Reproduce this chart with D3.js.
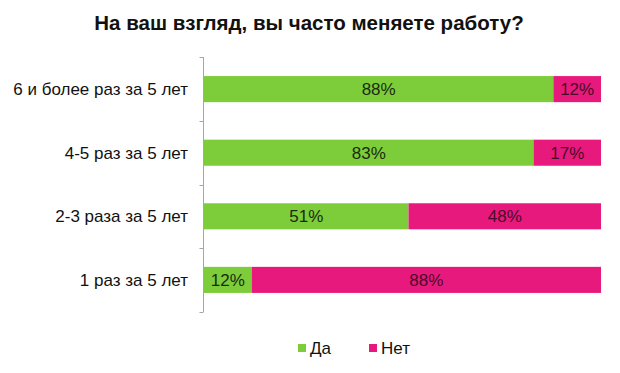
<!DOCTYPE html>
<html>
<head>
<meta charset="utf-8">
<script src="https://cdn.jsdelivr.net/npm/d3@7"></script>
<style>
  body { margin: 0; background: #fff; }
  text { font-family: "Liberation Sans", Arial, sans-serif; }
</style>
</head>
<body>
<svg id="chart"></svg>
<script>
// data
var categories = ["6 и более раз за 5 лет", "4-5 раз за 5 лет", "2-3 раза за 5 лет", "1 раз за 5 лет"];
var yes = [88, 83, 51, 12];
var no = [12, 17, 48, 88];
var seriesNames = ["Да", "Нет"];
var colors = ["#7dcd3a", "#e8197c"];
var labelColors = ["#1b2a10", "#4a0a28"];

var width = 620, height = 373;
var margin = {top: 57, left: 204, right: 19, bottom: 61};

var svg = d3.select("#chart").attr("width", width).attr("height", height);

svg.append("text")
    .attr("x", 309).attr("y", 30)
    .attr("text-anchor", "middle")
    .attr("font-size", 20.5).attr("font-weight", "bold")
    .attr("fill", "#111")
    .text("На ваш взгляд, вы часто меняете работу?");

// each row is shown as shares of its own total (100%-stacked)
var x = d3.scaleLinear().domain([0, 1]).range([margin.left, width - margin.right]);
var y = d3.scaleBand().domain(categories)
    .range([margin.top, height - margin.bottom])
    .paddingInner(0.59).paddingOuter(0.3);

var rows = categories.map(function(c, i){ return {cat: c, v: [yes[i], no[i]]}; });
var stack = d3.stack().keys([0, 1])
    .value(function(d, k){ return d.v[k]; })
    .offset(d3.stackOffsetExpand)(rows);

var g = svg.selectAll(".series").data(stack).enter().append("g")
    .attr("fill", function(d, i){ return colors[i]; });

g.selectAll("rect").data(function(d){ return d; }).enter().append("rect")
    .attr("x", function(d){ return x(d[0]); })
    .attr("width", function(d){ return x(d[1]) - x(d[0]); })
    .attr("y", function(d){ return y(d.data.cat); })
    .attr("height", y.bandwidth());

g.selectAll("text").data(function(d, i){ return d.map(function(p){ return {p: p, s: i}; }); })
    .enter().append("text")
    .attr("x", function(d){ return (x(d.p[0]) + x(d.p[1])) / 2; })
    .attr("y", function(d){ return y(d.p.data.cat) + y.bandwidth() / 2; })
    .attr("dy", "0.36em")
    .attr("text-anchor", "middle")
    .attr("font-size", 17)
    .attr("fill", function(d){ return labelColors[d.s]; })
    .text(function(d){ return d.p.data.v[d.s] + "%"; });

// category axis with ticks between bands
var axisX = x(0) - 0.5;
svg.append("line")
    .attr("x1", axisX).attr("x2", axisX)
    .attr("y1", margin.top).attr("y2", height - margin.bottom)
    .attr("stroke", "#a6a6a6");
var bounds = d3.range(categories.length + 1).map(function(i){ return margin.top + i * (height - margin.top - margin.bottom) / categories.length; });
svg.selectAll(".tick").data(bounds).enter().append("line")
    .attr("x1", axisX - 4).attr("x2", axisX)
    .attr("y1", function(d){ return Math.round(d) + 0.5; })
    .attr("y2", function(d){ return Math.round(d) + 0.5; })
    .attr("stroke", "#a6a6a6");

svg.selectAll(".cat").data(categories).enter().append("text")
    .attr("x", 188)
    .attr("y", function(d){ return y(d) + y.bandwidth() / 2; })
    .attr("dy", "0.36em")
    .attr("text-anchor", "end")
    .attr("font-size", 17)
    .attr("fill", "#111")
    .text(function(d){ return d; });

// legend
var legendX = [298, 369];
var lg = svg.selectAll(".legend").data(seriesNames).enter().append("g")
    .attr("transform", function(d, i){ return "translate(" + legendX[i] + ",344)"; });
lg.append("rect").attr("width", 8).attr("height", 8)
    .attr("fill", function(d, i){ return colors[i]; });
lg.append("text").attr("x", 12).attr("y", 4).attr("dy", "0.36em")
    .attr("font-size", 17).attr("fill", "#111")
    .text(function(d){ return d; });
</script>
</body>
</html>
